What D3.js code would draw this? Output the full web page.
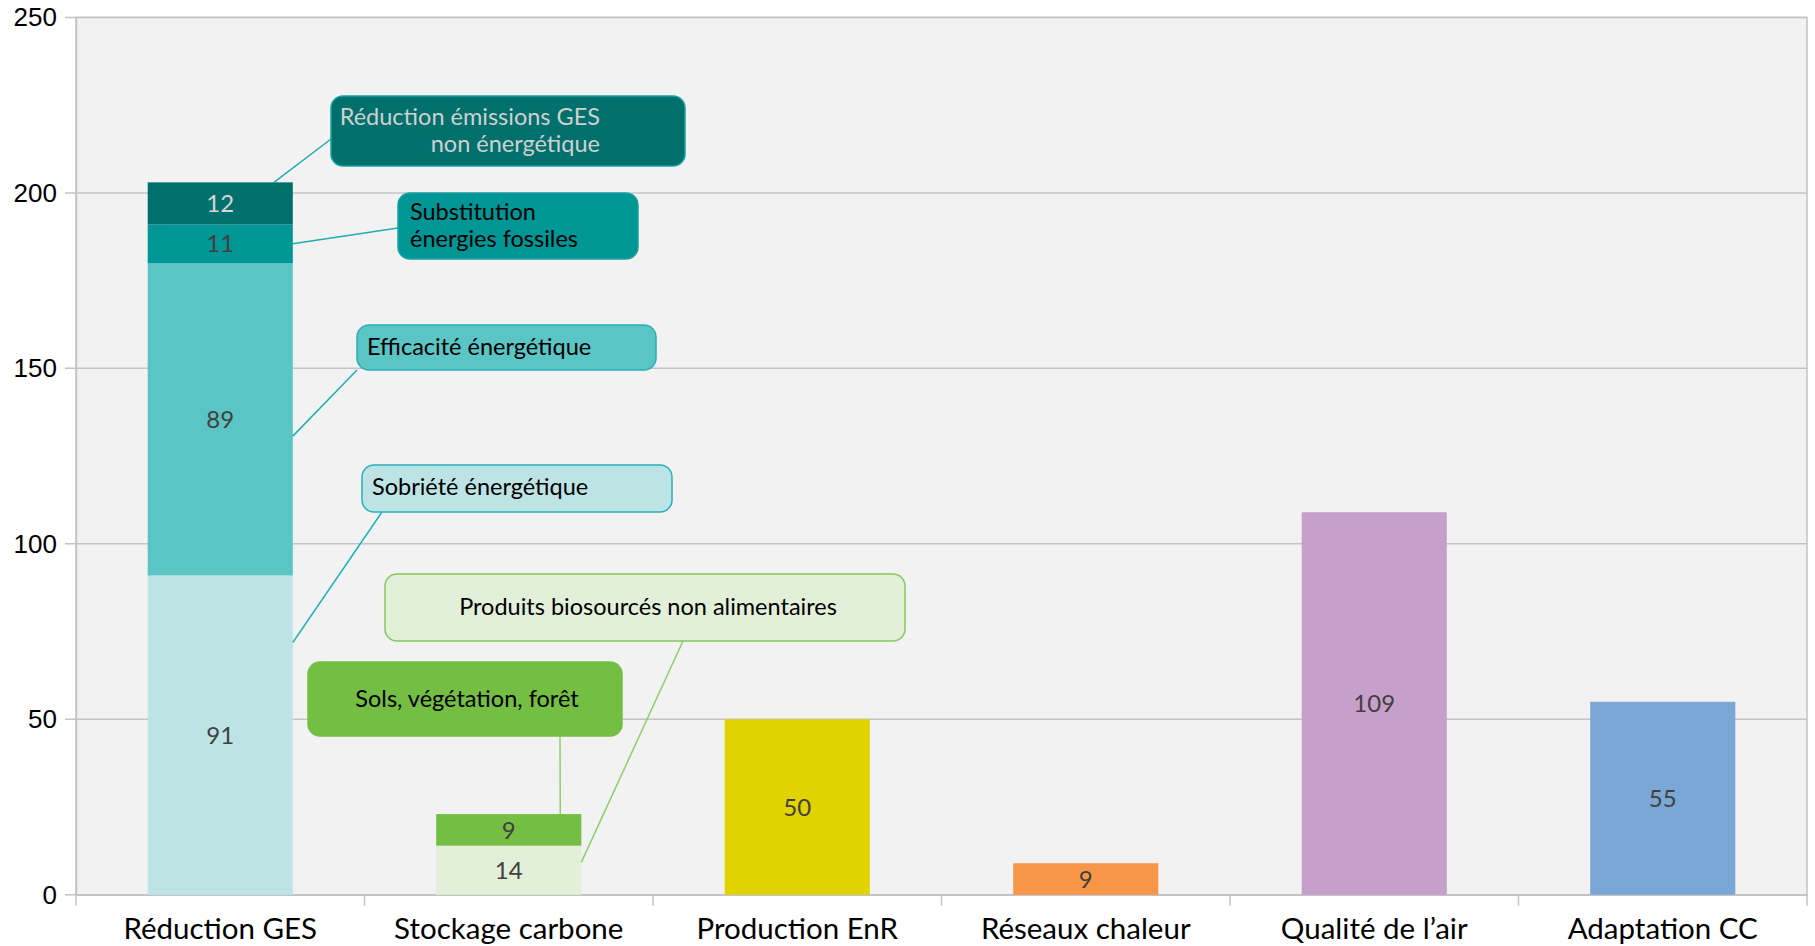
<!DOCTYPE html>
<html>
<head>
<meta charset="utf-8">
<script src="https://cdn.jsdelivr.net/npm/d3@7"></script>
<style>
  body { margin: 0; background: #fff; }
</style>
</head>
<body>
<div class="canvas"></div>
<script>
var w = 1815;
var h = 946;

// data
var categories = ["Réduction GES", "Stockage carbone", "Production EnR", "Réseaux chaleur", "Qualité de l’air", "Adaptation CC"];
var reductionGES = [91, 89, 11, 12];
var stockageCarbone = [14, 9];
var otherValues = [50, 9, 109, 55];
var yTicks = [0, 50, 100, 150, 200, 250];

var reductionColors = ["#bde4e4", "#5bc5c5", "#009696", "#00706d"];
var stockageColors = ["#e2efd9", "#74be43"];
var otherColors = ["#e2d200", "#f79646", "#c69fcb", "#7ba7d7"];

// stacks -> flat list of segments
var segments = [];
function pushStack(cat, values, colors) {
    var acc = 0;
    for (var i = 0; i < values.length; i++) {
        segments.push({cat: cat, i: i, y0: acc, y1: acc + values[i], v: values[i], color: colors[i]});
        acc += values[i];
    }
}
pushStack(categories[0], reductionGES, reductionColors);
pushStack(categories[1], stockageCarbone, stockageColors);
for (var k = 0; k < otherValues.length; k++) {
    pushStack(categories[k + 2], [otherValues[k]], [otherColors[k]]);
}

var plotL = 76, plotR = 1807, plotT = 17.4, plotB = 894.8;

var xScale = d3.scaleBand()
    .domain(categories)
    .range([plotL, plotR])
    .paddingInner(0.497)
    .paddingOuter(0.2485);

var yScale = d3.scaleLinear()
    .domain([0, 250])
    .range([plotB, plotT]);

var svg = d3.select(".canvas").append("svg")
    .attr("width", w)
    .attr("height", h);

// plot background
svg.append("rect")
    .attr("x", plotL).attr("y", plotT)
    .attr("width", plotR - plotL).attr("height", plotB - plotT)
    .attr("fill", "#f2f2f2")
    .attr("stroke", "#c4c4c4")
    .attr("stroke-width", 1.5);

// gridlines
svg.append("g").selectAll("line")
    .data(yTicks)
    .enter().append("line")
    .attr("x1", plotL - 11).attr("x2", plotR)
    .attr("y1", function(d) { return yScale(d); })
    .attr("y2", function(d) { return yScale(d); })
    .attr("stroke", "#c4c4c4")
    .attr("stroke-width", 1.5);

// y axis
var yAxis = d3.axisLeft(yScale).tickValues(yTicks).tickSize(0).tickPadding(19);
var gy = svg.append("g")
    .attr("transform", "translate(" + plotL + ",0)")
    .call(yAxis);
gy.select(".domain").attr("stroke", "#c4c4c4").attr("stroke-width", 1.5);
gy.selectAll("text")
    .attr("font-family", "'Liberation Sans', Arial, sans-serif")
    .attr("font-size", 26)
    .attr("fill", "#000");

// x axis
var xAxis = d3.axisBottom(xScale).tickSize(0).tickPadding(23);
var gx = svg.append("g")
    .attr("transform", "translate(0," + plotB + ")")
    .call(xAxis);
gx.select(".domain").attr("stroke", "#c4c4c4").attr("stroke-width", 1.5);
gx.selectAll("text")
    .attr("font-family", "Lato, 'Open Sans', sans-serif")
    .attr("font-size", 29.5)
    .attr("fill", "#000");

// tick marks between categories
var step = xScale.step();
var bounds = d3.range(categories.length + 1).map(function(i) { return plotL + i * step; });
svg.append("g").selectAll("line")
    .data(bounds)
    .enter().append("line")
    .attr("x1", function(d) { return d; }).attr("x2", function(d) { return d; })
    .attr("y1", plotB).attr("y2", plotB + 11)
    .attr("stroke", "#c4c4c4")
    .attr("stroke-width", 1.5);

// bars
svg.append("g").selectAll("rect")
    .data(segments)
    .enter().append("rect")
    .attr("x", function(d) { return xScale(d.cat); })
    .attr("y", function(d) { return yScale(d.y1); })
    .attr("width", xScale.bandwidth())
    .attr("height", function(d) { return yScale(d.y0) - yScale(d.y1); })
    .attr("fill", function(d) { return d.color; });

// value labels
svg.append("g").selectAll("text")
    .data(segments)
    .enter().append("text")
    .attr("x", function(d) { return xScale(d.cat) + xScale.bandwidth() / 2; })
    .attr("y", function(d) { return (yScale(d.y0) + yScale(d.y1)) / 2; })
    .attr("dy", "0.36em")
    .attr("text-anchor", "middle")
    .attr("font-family", "Lato, 'Open Sans', sans-serif")
    .attr("font-size", 24)
    .attr("fill", function(d) { return d.color == "#00706d" ? "#d6d6d6" : "#404040"; })
    .text(function(d) { return d.v; });

// callouts: box position, text, and where the leader hits the bar
var callouts = [
    {seg: [0, 3], frac: 1.0, side: 0.87, box: [331, 96, 354, 70], end: [331, 139],
     lines: ["Réduction émissions GES", "non énergétique"], anchor: "end", tx: 600, ty: [125, 152],
     fill: "#00706d", stroke: "#19a3a3", text: "#d0d0d0", lead: "#22adb2"},
    {seg: [0, 2], frac: 0.5, side: 1, box: [398, 193, 240, 66], end: [398, 228],
     lines: ["Substitution", "énergies fossiles"], anchor: "start", tx: 410, ty: [220, 247],
     fill: "#009696", stroke: "#19a3a3", text: "#000", lead: "#22adb2"},
    {seg: [0, 1], frac: 0.446, side: 1, box: [357, 325, 299, 45], end: [357, 370],
     lines: ["Efficacité énergétique"], anchor: "start", tx: 367, ty: [355],
     fill: "#5bc5c5", stroke: "#2ab0b3", text: "#000", lead: "#22adb2"},
    {seg: [0, 0], frac: 0.79, side: 1, box: [362, 465, 310, 47], end: [382, 512],
     lines: ["Sobriété énergétique"], anchor: "start", tx: 372, ty: [495],
     fill: "#bde4e4", stroke: "#2ab0b8", text: "#000", lead: "#22b0be"},
    {seg: [1, 0], frac: 0.66, side: 1, box: [385, 574, 520, 67], end: [683, 641],
     lines: ["Produits biosourcés non alimentaires"], anchor: "middle", tx: 648, ty: [615],
     fill: "#e2efd9", stroke: "#85c95c", text: "#000", lead: "#8ccf66"},
    {seg: [1, 1], frac: 1.0, side: 0.855, box: [308, 662, 314, 74], end: [560, 736],
     lines: ["Sols, végétation, forêt"], anchor: "middle", tx: 467, ty: [707],
     fill: "#74be43", stroke: "#74be43", text: "#000", lead: "#8ccf66"}
];

function findSeg(catIndex, i) {
    return segments.filter(function(s) { return s.cat == categories[catIndex] && s.i == i; })[0];
}

var layer = svg.append("g");
callouts.forEach(function(c) {
    var s = findSeg(c.seg[0], c.seg[1]);
    var bx = xScale(s.cat) + c.side * xScale.bandwidth();
    var by = yScale(s.y0 + c.frac * (s.y1 - s.y0));
    layer.append("line")
        .attr("x1", bx).attr("y1", by)
        .attr("x2", c.end[0]).attr("y2", c.end[1])
        .attr("stroke", c.lead)
        .attr("stroke-width", 1.5);
    layer.append("rect")
        .attr("x", c.box[0]).attr("y", c.box[1])
        .attr("width", c.box[2]).attr("height", c.box[3])
        .attr("rx", 12).attr("ry", 12)
        .attr("fill", c.fill)
        .attr("stroke", c.stroke)
        .attr("stroke-width", 1.5);
    c.lines.forEach(function(t, j) {
        layer.append("text")
            .attr("x", c.tx).attr("y", c.ty[j])
            .attr("text-anchor", c.anchor)
            .attr("font-family", "Lato, 'Open Sans', sans-serif")
            .attr("font-size", 23.5)
            .attr("fill", c.text)
            .text(t);
    });
});
</script>
</body>
</html>
